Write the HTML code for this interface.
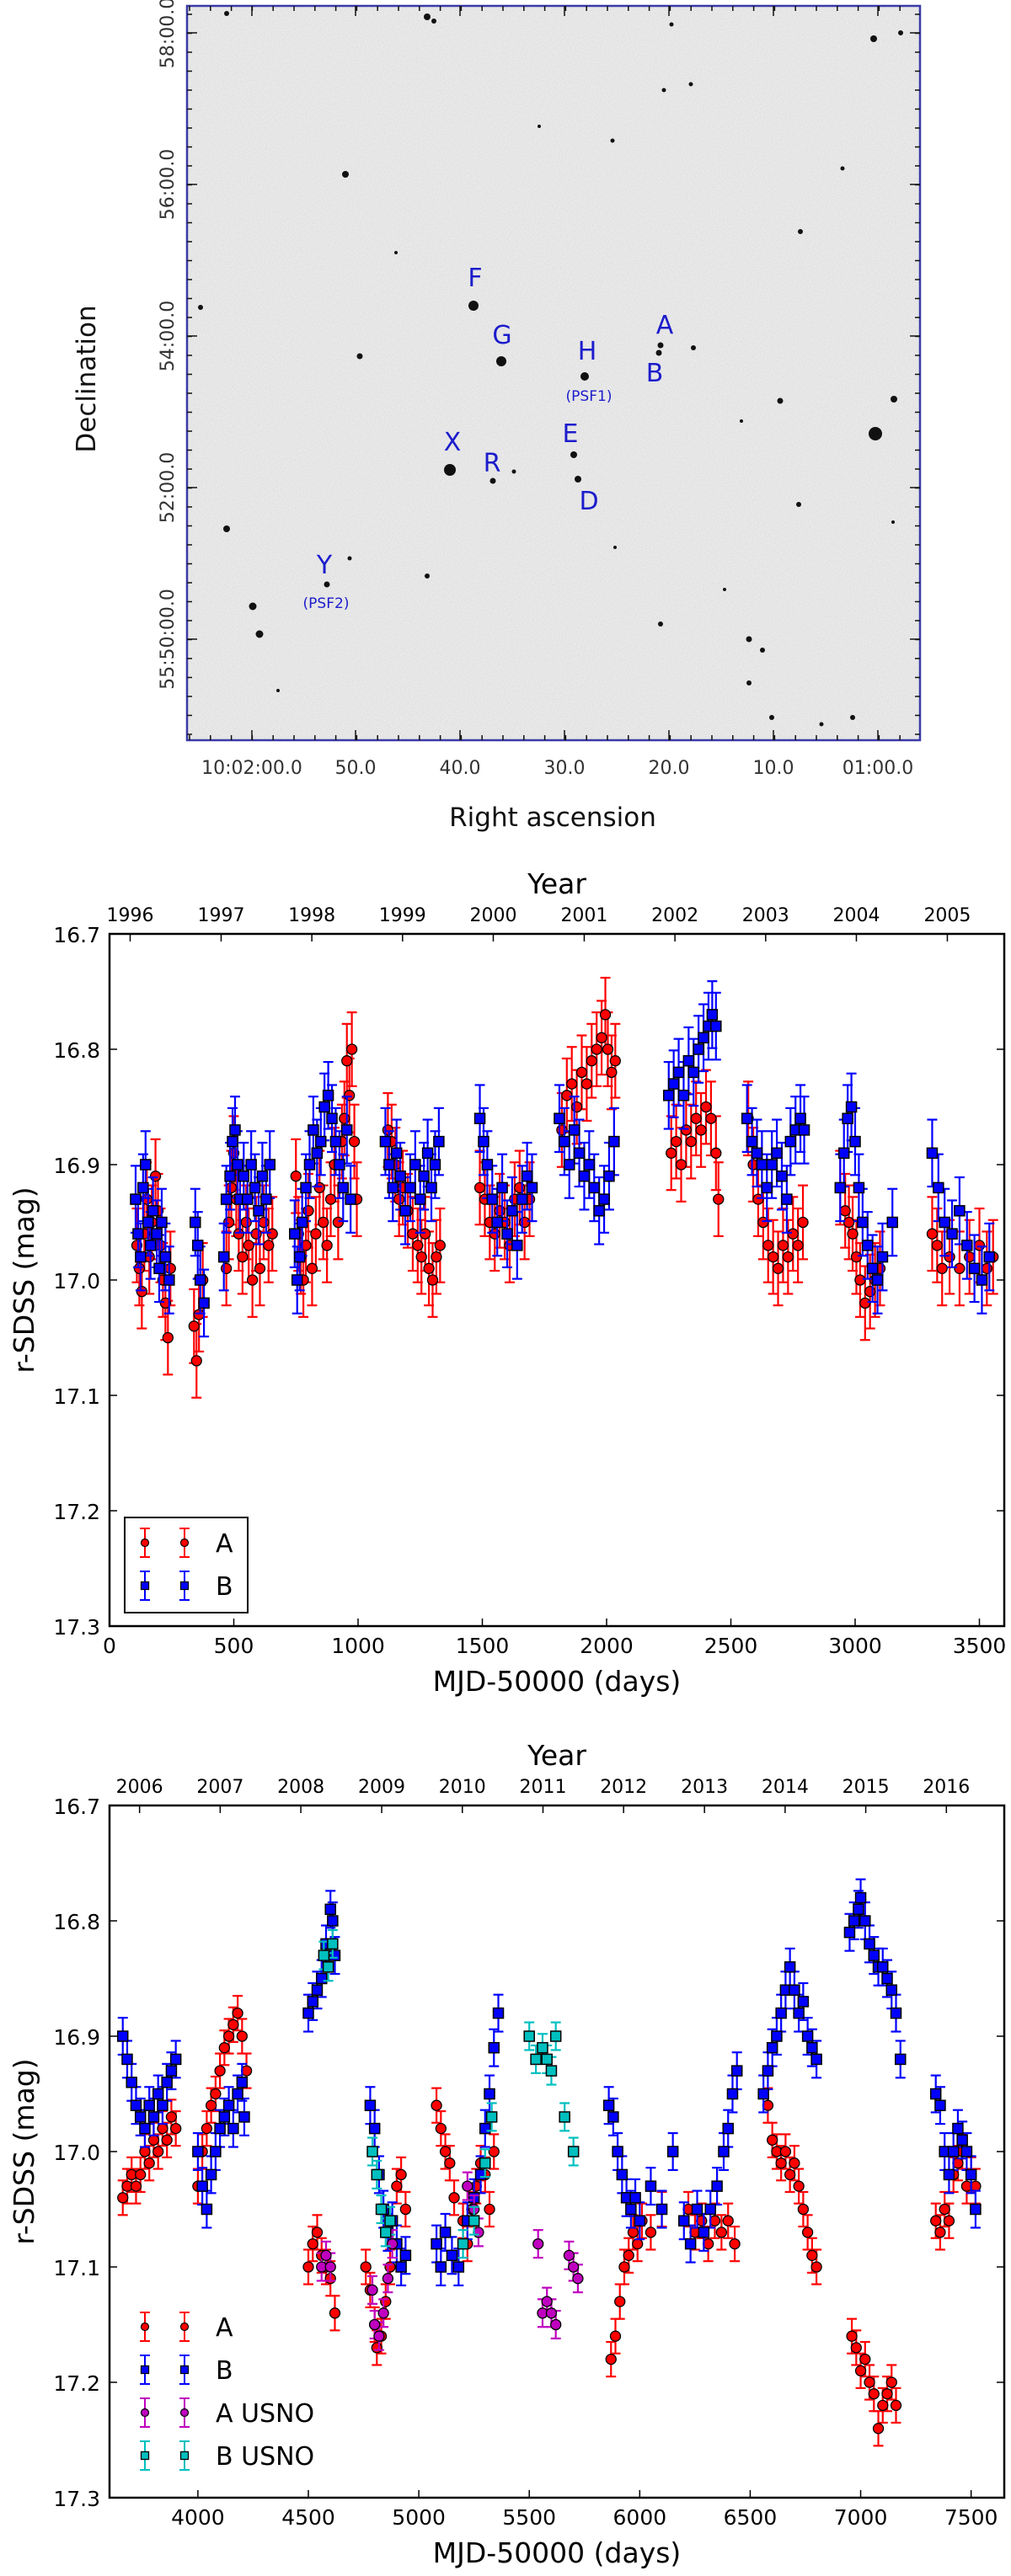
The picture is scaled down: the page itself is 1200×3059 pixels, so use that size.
<!DOCTYPE html>
<html><head><meta charset="utf-8"><title>Light curves</title>
<style>
html,body{margin:0;padding:0;background:#fff;}
svg{display:block;font-family:"DejaVu Sans","Liberation Sans",sans-serif;}
</style></head>
<body>
<svg id="page" width="1200" height="3059" viewBox="0 0 1200 3059" xmlns="http://www.w3.org/2000/svg">
<defs>
<filter id="noise" x="0" y="0" width="100%" height="100%" color-interpolation-filters="sRGB">
<feTurbulence type="fractalNoise" baseFrequency="0.9" numOctaves="2" seed="3" result="t"/>
<feColorMatrix in="t" type="matrix" values="1 0 0 0 0  1 0 0 0 0  1 0 0 0 0  0 0 0 0 1"/>
</filter>
<clipPath id="imgclip"><rect x="222" y="7" width="870" height="872"/></clipPath>
</defs>
<g id="sky-panel">
<rect x="222" y="7" width="870" height="872" fill="#f5f5f5"/>
<rect x="222" y="7" width="870" height="872" filter="url(#noise)" opacity="0.12"/>
<g id="stars" clip-path="url(#imgclip)"></g>
<g id="sky-labels" fill="#1c1ccc" font-size="30">
<text x="564" y="340" text-anchor="middle">F</text>
<text x="596" y="408" text-anchor="middle">G</text>
<text x="697" y="427" text-anchor="middle">H</text>
<text x="699" y="476" text-anchor="middle" font-size="17">(PSF1)</text>
<text x="789" y="396" text-anchor="middle">A</text>
<text x="777" y="453" text-anchor="middle">B</text>
<text x="537" y="535" text-anchor="middle">X</text>
<text x="584" y="560" text-anchor="middle">R</text>
<text x="677" y="525" text-anchor="middle">E</text>
<text x="699" y="605" text-anchor="middle">D</text>
<text x="385" y="681" text-anchor="middle">Y</text>
<text x="387" y="722" text-anchor="middle" font-size="17">(PSF2)</text>
</g>
<rect x="222" y="7" width="870" height="872" fill="none" stroke="#3a3aa8" stroke-width="2.5"/>
<g id="sky-ticks" stroke="#111" stroke-width="1.5"></g>
<g id="sky-ticklabels" fill="#333" font-size="22"></g>
<text x="0" y="0" font-size="31" fill="#111" text-anchor="middle" transform="translate(113,450) rotate(-90)">Declination</text>
<text x="656" y="981" font-size="31" fill="#111" text-anchor="middle">Right ascension</text>
</g>
<g id="chart1"></g>
<g id="chart2"></g>
</svg>
<script>
// ---------- Chart 1 data (MJD-50000, r-SDSS mag) ----------
var c1MjdA=[110,120,130,140,150,160,170,185,195,205,215,225,235,245,340,350,360,375,470,480,490,500,510,520,535,550,560,575,590,605,620,640,655,750,760,770,780,790,800,815,830,845,860,875,890,905,920,935,945,955,965,975,985,995,1120,1135,1150,1165,1180,1200,1220,1240,1255,1270,1285,1300,1315,1330,1490,1510,1530,1550,1570,1590,1610,1630,1650,1670,1690,1820,1840,1860,1880,1900,1920,1940,1960,1980,1995,2005,2020,2035,2260,2280,2300,2320,2340,2360,2380,2400,2420,2440,2450,2570,2590,2610,2630,2650,2670,2690,2710,2730,2750,2770,2790,2940,2960,2975,2990,3005,3020,3040,3060,3080,3100,3310,3330,3350,3380,3420,3460,3500,3530,3555];
var c1MagA=[16.97,16.99,17.01,16.96,16.93,16.98,16.95,16.91,16.94,16.97,17.0,17.02,17.05,16.99,17.04,17.07,17.03,17.0,16.99,16.95,16.92,16.89,16.93,16.96,16.98,16.95,16.97,17.0,16.96,16.99,16.95,16.97,16.96,16.91,16.96,16.98,17.0,16.97,16.94,16.99,16.96,16.92,16.95,16.97,16.93,16.9,16.95,16.88,16.86,16.81,16.84,16.8,16.88,16.93,16.87,16.88,16.9,16.93,16.92,16.94,16.96,16.97,16.98,16.96,16.99,17.0,16.98,16.97,16.92,16.93,16.95,16.96,16.94,16.95,16.97,16.93,16.92,16.95,16.93,16.87,16.84,16.83,16.85,16.82,16.83,16.81,16.8,16.79,16.77,16.8,16.82,16.81,16.89,16.88,16.9,16.87,16.88,16.86,16.87,16.85,16.86,16.89,16.93,16.86,16.9,16.93,16.95,16.97,16.98,16.99,16.97,16.98,16.96,16.97,16.95,16.92,16.94,16.95,16.96,16.98,17.0,17.02,17.01,17.0,16.99,16.96,16.97,16.99,16.98,16.99,16.98,16.97,16.99,16.98];
var c1MjdB=[105,115,125,135,145,155,165,175,190,200,210,225,240,345,355,365,380,460,470,485,495,505,515,525,540,555,570,585,600,615,630,645,745,755,765,775,790,805,820,835,850,865,880,895,910,925,940,955,970,1110,1125,1140,1155,1170,1190,1210,1230,1250,1265,1280,1295,1310,1325,1490,1505,1520,1540,1560,1580,1600,1620,1640,1660,1680,1700,1810,1830,1850,1870,1890,1910,1930,1950,1970,1990,2010,2030,2250,2270,2290,2310,2330,2350,2370,2390,2410,2425,2440,2565,2585,2605,2625,2645,2665,2685,2705,2725,2740,2760,2780,2795,2940,2955,2970,2985,3000,3015,3030,3050,3070,3090,3110,3150,3310,3335,3360,3390,3420,3450,3480,3510,3540];
var c1MagB=[16.93,16.96,16.98,16.92,16.9,16.95,16.97,16.94,16.96,16.99,16.95,16.98,17.0,16.95,16.97,17.0,17.02,16.98,16.93,16.91,16.88,16.87,16.9,16.93,16.91,16.93,16.9,16.92,16.94,16.91,16.93,16.9,16.96,17.0,16.98,16.95,16.92,16.9,16.87,16.89,16.88,16.85,16.84,16.86,16.88,16.9,16.92,16.87,16.93,16.88,16.9,16.92,16.89,16.91,16.94,16.92,16.9,16.93,16.91,16.89,16.92,16.9,16.88,16.86,16.88,16.9,16.93,16.95,16.92,16.96,16.94,16.97,16.93,16.91,16.92,16.86,16.88,16.9,16.87,16.89,16.91,16.9,16.92,16.94,16.93,16.91,16.88,16.84,16.83,16.82,16.84,16.81,16.82,16.8,16.79,16.78,16.77,16.78,16.86,16.88,16.89,16.9,16.92,16.9,16.89,16.91,16.93,16.88,16.87,16.86,16.87,16.92,16.89,16.86,16.85,16.88,16.92,16.95,16.97,16.99,17.0,16.98,16.95,16.89,16.92,16.95,16.96,16.94,16.97,16.99,17.0,16.98];
var c1ErrA=[0.032];
var c1ErrB=[0.029];
var c1XTicks=[0,500,1000,1500,2000,2500,3000,3500];
var c1YTicks=[16.7,16.8,16.9,17.0,17.1,17.2,17.3];
var c1YearLabels=["1996","1997","1998","1999","2000","2001","2002","2003","2004","2005"];
var c1YearMjd=[83,449,814,1179,1544,1910,2275,2640,3005,3371];

// ---------- Chart 2 data ----------
var c2MjdA=[3660,3680,3700,3720,3740,3760,3780,3800,3820,3840,3860,3880,3900,4000,4020,4040,4060,4080,4100,4120,4140,4160,4180,4200,4220,4500,4520,4540,4560,4580,4600,4620,4760,4780,4800,4810,4830,4850,4870,4900,4920,4940,5080,5100,5120,5140,5160,5200,5220,5240,5260,5280,5300,5320,5340,5870,5890,5910,5930,5950,5970,5990,6010,6050,6100,6220,6250,6280,6310,6340,6370,6400,6430,6580,6600,6620,6640,6660,6680,6700,6720,6740,6760,6780,6800,6960,6980,7000,7020,7040,7060,7080,7100,7120,7140,7160,7340,7360,7380,7400,7420,7440,7460,7480,7500,7520];
var c2MagA=[17.04,17.03,17.02,17.03,17.02,17.0,17.01,16.99,17.0,16.98,16.99,16.97,16.98,17.03,17.0,16.98,16.96,16.95,16.93,16.91,16.9,16.89,16.88,16.9,16.93,17.1,17.08,17.07,17.09,17.1,17.11,17.14,17.1,17.12,17.15,17.17,17.16,17.13,17.1,17.03,17.02,17.05,16.96,16.98,17.0,17.01,17.04,17.06,17.08,17.05,17.03,17.01,17.02,17.05,17.0,17.18,17.16,17.13,17.1,17.09,17.07,17.08,17.06,17.07,17.05,17.05,17.07,17.06,17.08,17.06,17.07,17.06,17.08,16.96,16.99,17.0,17.01,17.0,17.02,17.01,17.03,17.05,17.07,17.09,17.1,17.16,17.17,17.19,17.18,17.2,17.21,17.24,17.22,17.21,17.2,17.22,17.06,17.07,17.05,17.06,17.02,17.01,17.0,17.03,17.02,17.03];
var c2MjdB=[3660,3680,3700,3720,3740,3760,3780,3800,3820,3840,3860,3880,3900,4000,4020,4040,4060,4080,4100,4120,4140,4160,4180,4200,4210,4500,4520,4540,4560,4580,4600,4610,4620,4780,4800,4820,4840,4860,4880,4900,4920,4940,5080,5100,5120,5150,5180,5220,5250,5280,5300,5320,5340,5360,5860,5880,5900,5920,5940,5960,5980,6000,6050,6100,6150,6200,6230,6260,6290,6320,6350,6380,6400,6420,6440,6560,6580,6600,6620,6640,6660,6680,6700,6720,6740,6760,6780,6800,6950,6970,6990,7000,7020,7040,7060,7080,7100,7120,7140,7160,7180,7340,7360,7380,7400,7420,7440,7460,7480,7500,7520];
var c2MagB=[16.9,16.92,16.94,16.96,16.97,16.98,16.96,16.97,16.95,16.96,16.94,16.93,16.92,17.0,17.03,17.05,17.02,17.0,16.98,16.97,16.96,16.98,16.95,16.94,16.97,16.88,16.87,16.86,16.85,16.82,16.79,16.8,16.83,16.96,16.98,17.02,17.05,17.07,17.06,17.08,17.1,17.09,17.08,17.1,17.07,17.09,17.1,17.06,17.04,17.02,16.98,16.95,16.91,16.88,16.96,16.97,17.0,17.02,17.04,17.05,17.04,17.06,17.03,17.05,17.0,17.06,17.08,17.05,17.07,17.05,17.03,17.0,16.98,16.95,16.93,16.95,16.93,16.91,16.9,16.88,16.86,16.84,16.86,16.88,16.87,16.9,16.91,16.92,16.81,16.8,16.79,16.78,16.8,16.82,16.83,16.84,16.84,16.85,16.86,16.88,16.92,16.95,16.96,17.0,17.02,17.0,16.98,16.99,17.0,17.02,17.05];
var c2MjdAU=[4560,4580,4600,4790,4800,4820,4840,4860,4880,5220,5250,5270,5540,5560,5580,5600,5620,5680,5700,5720];
var c2MagAU=[17.1,17.09,17.1,17.12,17.15,17.16,17.14,17.11,17.08,17.03,17.05,17.07,17.08,17.14,17.13,17.14,17.15,17.09,17.1,17.11];
var c2MjdBU=[4570,4590,4610,4790,4810,4830,4850,4870,5200,5250,5300,5330,5500,5530,5560,5580,5600,5620,5660,5700];
var c2MagBU=[16.83,16.84,16.82,17.0,17.02,17.05,17.07,17.06,17.08,17.06,17.01,16.97,16.9,16.92,16.91,16.92,16.93,16.9,16.97,17.0];
var c2ErrA=[0.015];
var c2ErrB=[0.016];
var c2ErrAU=[0.012];
var c2ErrBU=[0.012];
var c2XTicks=[4000,4500,5000,5500,6000,6500,7000,7500];
var c2YTicks=[16.7,16.8,16.9,17.0,17.1,17.2,17.3];
var c2YearLabels=["2006","2007","2008","2009","2010","2011","2012","2013","2014","2015","2016"];
var c2YearMjd=[3736,4101,4466,4832,5197,5562,5927,6293,6658,7023,7388];

// ---------- Sky image ----------
var starX=[562,595,694,784,782,534,585,681,686,388,216,269,507,515,410,238,427,926,1039,1061,823,269,300,308,507,415,889,905,889,916,784,948,1012,950,1069,1037,797,820,788,727,610,470,640,1000,1060,860,330,975,730,880];
var starY=[363,429,447,410,419,558,571,540,569,694,18,16,20,25,207,365,423,476,515,474,413,628,720,753,684,663,759,772,811,852,741,599,852,275,39,46,29,100,107,167,560,300,150,200,620,700,820,860,650,500];
var starR=[6,6,5,3.5,3.5,7,3.5,4,4,3.5,4,3,4,3,4,3,3.5,3.5,8,4,3,4,4.5,4.5,3,2.5,3.5,3,3,3,3,3,3,3,3,4,2.5,2.5,2.5,2.5,2.5,2,2,2.5,2,2,2,2.5,2,2];

var NS='http://www.w3.org/2000/svg';
function mk(tag,attrs,parent){var e=document.createElementNS(NS,tag);for(var k in attrs)e.setAttribute(k,attrs[k]);if(parent)parent.appendChild(e);return e;}

(function(){
  var g=document.getElementById('stars');
  for(var i=0;i<starX.length;i++){
    var c=mk('circle',{cx:starX[i],cy:starY[i],r:starR[i],fill:'#111'},g);
    
    
  }
  var tg=document.getElementById('sky-ticks');
  var lg=document.getElementById('sky-ticklabels');
  var raMaj=[299,422,546,670,794,918,1042];
  var raLab=["10:02:00.0","50.0","40.0","30.0","20.0","10.0","01:00.0"];
  for(var x=225;x<1092;x+=24.8){
    var t=mk('line',{x1:x,x2:x,y1:879,y2:873},tg);
    var t2=mk('line',{x1:x,x2:x,y1:7,y2:13},tg);
  }
  for(var i=0;i<raMaj.length;i++){
    var t=mk('line',{x1:raMaj[i],x2:raMaj[i],y1:879,y2:867},tg);
    var t2=mk('line',{x1:raMaj[i],x2:raMaj[i],y1:7,y2:19},tg);
    var tx=mk('text',{x:raMaj[i],y:919,'text-anchor':'middle'},lg);tx.textContent=raLab[i];
    
  }
  var decMaj=[39,219,399,579,759];
  var decLab=["58:00.0","56:00.0","54:00.0","52:00.0","55:50:00.0"];
  for(var y=17;y<879;y+=22.5){
    var t=mk('line',{x1:222,x2:228,y1:y,y2:y},tg);
    var t2=mk('line',{x1:1092,x2:1086,y1:y,y2:y},tg);
  }
  for(var i=0;i<decMaj.length;i++){
    var t=mk('line',{x1:222,x2:234,y1:decMaj[i],y2:decMaj[i]},tg);
    var t2=mk('line',{x1:1092,x2:1080,y1:decMaj[i],y2:decMaj[i]},tg);
    var tx=mk('text',{x:0,y:0,'text-anchor':'middle',transform:'translate(206,'+decMaj[i]+') rotate(-90)'},lg);tx.textContent=decLab[i];
    
  }
})();

function drawChart(gid,cfg){
  var g=document.getElementById(gid);
  var L=130,R=1192,T=cfg.top,B=cfg.top+822;
  function xs(v){return L+(v-cfg.xmin)/(cfg.xmax-cfg.xmin)*(R-L);}
  function ys(v){return T+(v-16.7)/0.6*(B-T);}
  var plot=mk('g',{},g);
  cfg.series.forEach(function(s){
    var sg=mk('g',{},plot);
    
    
    var eb=mk('g',{stroke:s.color,'stroke-width':2.2},sg);
    for(var i=0;i<s.x.length;i++){
      var x=xs(s.x[i]),y1=ys(s.y[i]-s.err[0]),y2=ys(s.y[i]+s.err[0]);
      var l=mk('line',{x1:x,x2:x,y1:y1,y2:y2},eb);
      
      
      mk('line',{x1:x-6,x2:x+6,y1:y1,y2:y1},eb);
      mk('line',{x1:x-6,x2:x+6,y1:y2,y2:y2},eb);
    }
    for(var i=0;i<s.x.length;i++){
      var x=xs(s.x[i]),y=ys(s.y[i]),m;
      if(s.shape==='sq'){m=mk('rect',{x:x-6,y:y-6,width:12,height:12,fill:s.color,stroke:'#000','stroke-width':1.5},sg);}
      else{m=mk('circle',{cx:x,cy:y,r:6,fill:s.color,stroke:'#000','stroke-width':1.3},sg);}
      
      
    }
  });
  var fr=mk('rect',{x:L,y:T,width:R-L,height:B-T,fill:'none',stroke:'#000','stroke-width':2.5},g);
  
  
  var tk=mk('g',{stroke:'#000','stroke-width':1.5},g);
  var lab=mk('g',{fill:'#000','font-size':25},g);
  cfg.xticks.forEach(function(v){
    var x=xs(v);
    var t=mk('line',{x1:x,x2:x,y1:B,y2:B-9},tk);
    
    
    var tx=mk('text',{x:x,y:B+32,'text-anchor':'middle'},lab);tx.textContent=String(v);
    
    
  });
  cfg.yticks.forEach(function(v){
    var y=ys(v);
    var t=mk('line',{x1:L,x2:L+9,y1:y,y2:y},tk);
    
    
    mk('line',{x1:R,x2:R-9,y1:y,y2:y},tk);
    var tx=mk('text',{x:119,y:y+10,'text-anchor':'end'},lab);tx.textContent=v.toFixed(1);
    
    
  });
  cfg.years.forEach(function(v,i){
    var x=xs(v);
    var t=mk('line',{x1:x,x2:x,y1:T,y2:T+9},tk);
    
    
    var tx=mk('text',{x:x,y:T-15,'text-anchor':'middle','font-size':22},lab);tx.textContent=cfg.yearLabels[i];
    
    
  });
  var yt=mk('text',{x:661,y:T-48,'text-anchor':'middle','font-size':33},lab);yt.textContent='Year';
  
  
  var xt=mk('text',{x:661,y:B+77,'text-anchor':'middle','font-size':33},lab);xt.textContent='MJD-50000 (days)';
  
  
  var ytl=mk('text',{x:0,y:0,'text-anchor':'middle','font-size':33,transform:'translate(40,'+((T+B)/2)+') rotate(-90)'},lab);ytl.textContent='r-SDSS (mag)';
  
  
  var lgd=mk('g',{},g);
  
  
  if(cfg.legendBox){var lb=mk('rect',{x:148,y:cfg.legendTop-30,width:146,height:113,fill:'#fff',stroke:'#000','stroke-width':2},lgd);}
  cfg.series.forEach(function(s,i){
    var y=cfg.legendTop+i*51;
    var ent=mk('g',{},lgd);
    
    
    [172,219].forEach(function(x){
      mk('line',{x1:x,x2:x,y1:y-17,y2:y+17,stroke:s.color,'stroke-width':2},ent);
      mk('line',{x1:x-6,x2:x+6,y1:y-17,y2:y-17,stroke:s.color,'stroke-width':2},ent);
      mk('line',{x1:x-6,x2:x+6,y1:y+17,y2:y+17,stroke:s.color,'stroke-width':2},ent);
      if(s.shape==='sq')mk('rect',{x:x-4.5,y:y-4.5,width:9,height:9,fill:s.color,stroke:'#000','stroke-width':1.3},ent);
      else mk('circle',{cx:x,cy:y,r:4.5,fill:s.color,stroke:'#000','stroke-width':1.2},ent);
    });
    var tx=mk('text',{x:256,y:y+11,'font-size':30},ent);tx.textContent=s.label;
  });
}

drawChart('chart1',{top:1109,xmin:0,xmax:3600,xticks:c1XTicks,yticks:c1YTicks,years:c1YearMjd,yearLabels:c1YearLabels,legendBox:true,legendTop:1832,
  series:[{key:'A',label:'A',x:c1MjdA,y:c1MagA,err:c1ErrA,color:'#ff0000',shape:'c'},
          {key:'B',label:'B',x:c1MjdB,y:c1MagB,err:c1ErrB,color:'#0000ff',shape:'sq'}]});
drawChart('chart2',{top:2144,xmin:3600,xmax:7650,xticks:c2XTicks,yticks:c2YTicks,years:c2YearMjd,yearLabels:c2YearLabels,legendBox:false,legendTop:2763,
  series:[{key:'A',label:'A',x:c2MjdA,y:c2MagA,err:c2ErrA,color:'#ff0000',shape:'c'},
          {key:'B',label:'B',x:c2MjdB,y:c2MagB,err:c2ErrB,color:'#0000ff',shape:'sq'},
          {key:'A-USNO',label:'A USNO',x:c2MjdAU,y:c2MagAU,err:c2ErrAU,color:'#bf00bf',shape:'c'},
          {key:'B-USNO',label:'B USNO',x:c2MjdBU,y:c2MagBU,err:c2ErrBU,color:'#00bfbf',shape:'sq'}]});
</script>
</body></html>
